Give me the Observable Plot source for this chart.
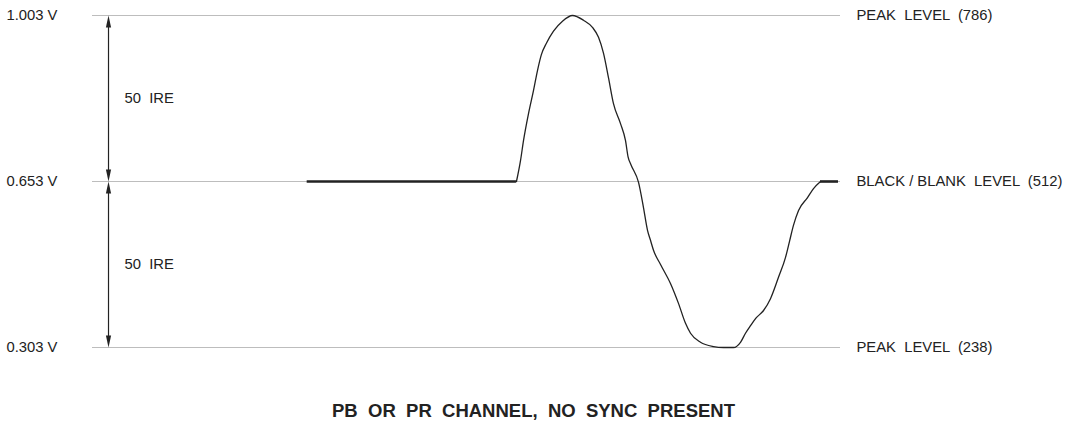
<!DOCTYPE html>
<html><head><meta charset="utf-8">
<script src="https://cdn.jsdelivr.net/npm/d3@7"></script>
<script src="https://cdn.jsdelivr.net/npm/@observablehq/plot@0.6"></script>
<style>
body{margin:0;background:#fff}
svg text{white-space:pre}
g[aria-label="title"] text{letter-spacing:0.5px}
</style>
</head><body><div id="chart"></div>
<script>
// Reference levels (volts) and their labels
const levels = [1.003, 0.653, 0.303];
const levelLabels = ["PEAK  LEVEL  (786)", "BLACK / BLANK  LEVEL  (512)", "PEAK  LEVEL  (238)"];
const blankLevel = 0.653;

// Flat (thick) blanking segments, time in arbitrary units (0–100)
const flatStartT = [28.7, 97.33];
const flatEndT = [56.68, 99.73];

// Waveform samples (time, volts)
const waveT = [56.68, 57.22, 57.62, 58.29, 58.96, 59.49, 60.0, 60.7, 61.63, 62.83, 64.17, 65.64, 66.84, 67.65, 68.32, 68.98, 69.65, 70.59, 71.26, 71.6, 72.0, 73.0, 73.66, 74.2, 74.6, 75.0, 75.94, 77.27, 78.34, 79.28, 79.95, 81.28, 83.02, 84.36, 85.7, 86.63, 87.3, 87.97, 88.64, 89.71, 90.64, 91.71, 92.65, 93.2, 93.7, 94.39, 95.59, 96.39, 97.33];
const waveV = [0.653, 0.697, 0.739, 0.796, 0.845, 0.887, 0.920, 0.945, 0.970, 0.991, 1.003, 0.993, 0.978, 0.957, 0.923, 0.872, 0.817, 0.775, 0.739, 0.705, 0.688, 0.651, 0.598, 0.550, 0.529, 0.508, 0.478, 0.438, 0.396, 0.354, 0.333, 0.314, 0.305, 0.303, 0.303, 0.314, 0.333, 0.349, 0.364, 0.381, 0.406, 0.451, 0.493, 0.528, 0.560, 0.592, 0.619, 0.638, 0.653];

// IRE dimension spans
const ireTop = [1.003, 0.653];
const ireBottom = [0.653, 0.303];
const ireLabels = ["50  IRE", "50  IRE"];
const arrowT = 2.14;
const ireLabelT = 4.28;

const title = "PB  OR  PR  CHANNEL,  NO  SYNC  PRESENT";

const wave = waveT.map((t, i) => ({t, v: waveV[i]}));
const flats = flatStartT.map((s, i) => ({x1: s, x2: flatEndT[i]}));
const spans = ireTop.map((top, i) => ({top, bottom: ireBottom[i], label: ireLabels[i], mid: (top + ireBottom[i]) / 2}));
const heads = spans.flatMap(s => [{v: s.top, rot: 0}, {v: s.bottom, rot: 180}]);

const headSymbol = {
  draw(ctx) {
    ctx.moveTo(0, 0);
    ctx.lineTo(-2.6, 12);
    ctx.lineTo(2.6, 12);
    ctx.closePath();
  }
};

const ink = "#222";
const fs = 14.8;
const chart = Plot.plot({
  width: 1071,
  height: 429,
  marginTop: 15,
  marginBottom: 82,
  marginLeft: 92,
  marginRight: 231,
  style: {fontFamily: "'Liberation Sans', Arial, sans-serif", fontSize: fs + "px", color: ink, background: "#fff"},
  x: {domain: [0, 100], axis: null},
  y: {domain: [0.303, 1.003]},
  marks: [
    Plot.ruleY(levels, {stroke: "#bdbdbd", strokeWidth: 1.1}),
    Plot.axisY(levels, {anchor: "left", tickSize: 0, tickPadding: 35, label: null, fontSize: fs, tickFormat: d => d.toFixed(3) + " V", fill: ink}),
    Plot.axisY(levels, {anchor: "right", tickSize: 0, tickPadding: 16, label: null, fontSize: fs, tickFormat: d => levelLabels[levels.indexOf(d)], fill: ink}),
    Plot.ruleX(spans, {x: () => arrowT, y1: "top", y2: "bottom", stroke: ink, strokeWidth: 1.2, insetTop: 6, insetBottom: 6}),
    Plot.dot(heads, {x: () => arrowT, y: "v", rotate: "rot", symbol: headSymbol, fill: ink, stroke: "none", r: 4}),
    Plot.text(spans, {x: () => ireLabelT, y: "mid", text: "label", textAnchor: "start", fill: ink, fontSize: fs}),
    Plot.ruleY(flats, {x1: "x1", x2: "x2", y: () => blankLevel, stroke: ink, strokeWidth: 2.6}),
    Plot.line(wave, {x: "t", y: "v", curve: "monotone-x", stroke: ink, strokeWidth: 1.3}),
    Plot.text([title], {text: d => d, frameAnchor: "bottom", dx: 67, dy: 69, fontSize: 18.5, fontWeight: "bold", fill: ink, ariaLabel: "title"})
  ]
});
document.getElementById("chart").append(chart);
</script>
</body></html>
